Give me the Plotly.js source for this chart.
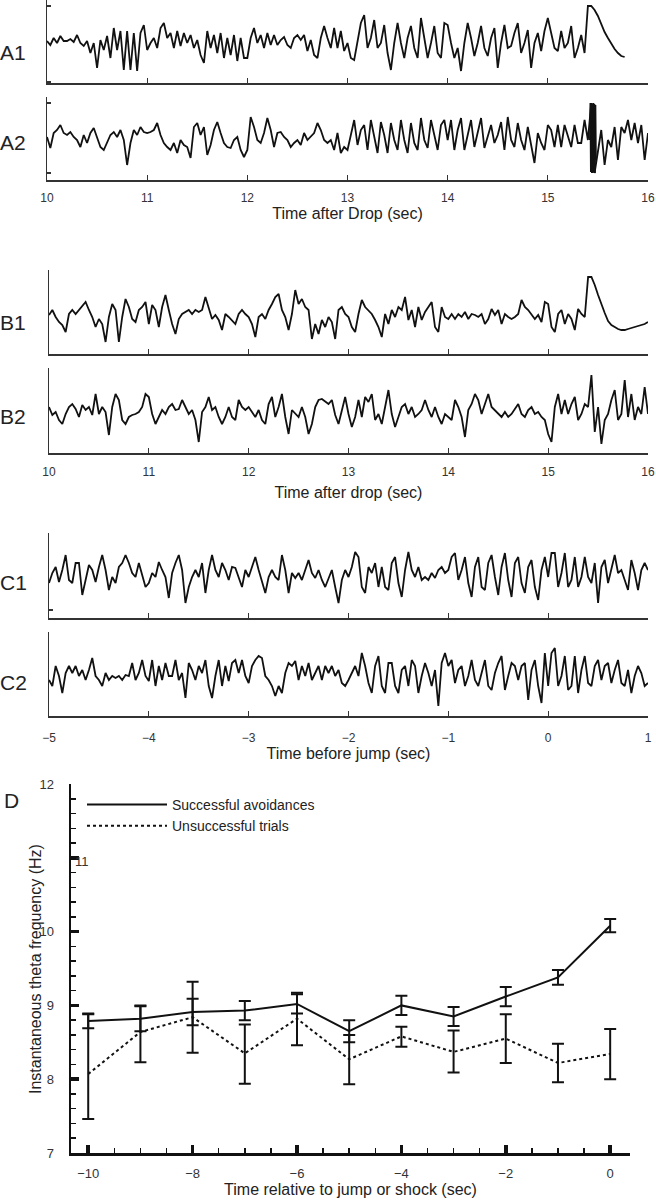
<!DOCTYPE html>
<html>
<head>
<meta charset="utf-8">
<script src="https://cdn.plot.ly/plotly-3.0.1.min.js"></script>
<style>
  body { margin: 0; background: #fff; }
  #chart { width: 656px; height: 1200px; }
</style>
</head>
<body>
<div id="chart"></div>
<script>
// traces at 30 samples per second
const rate = 30;
const dropStart = 10; // panels A and B: seconds after the drop
const jumpStart = -5; // panel C: seconds before the jump

// amplitudes in arbitrary units (about 1 unit per pixel of the original), one row per second
const a1 = [
  2,-2,5,0,7,2,2,4,1,8,0,-3,2,-10,0,-25,3,-7,7,-15,15,-7,12,-27,12,-27,10,-28,10,18,
  -7,0,5,-5,15,20,5,10,-5,12,-3,10,0,8,-5,3,-12,-20,12,-5,8,-10,10,-15,5,-12,8,-18,5,-15,
  -15,5,15,0,8,-5,10,-2,8,-2,3,6,-2,-5,5,8,3,8,-8,3,-12,-15,5,17,5,-5,15,-5,12,-8,
  0,-15,-17,0,20,28,-5,5,23,-5,0,18,-10,-27,0,20,0,-15,5,17,-5,-15,25,5,-15,0,17,-10,-15,20,
  18,0,-15,-5,-28,0,20,5,-13,0,17,-5,-13,5,15,-25,0,18,-5,-3,10,20,-10,0,13,-25,0,10,-8,12,
  25,10,-5,-8,12,-5,0,17,-15,-5,8,-10,37,37,33,27,19,11,5,-1,-6,-10,-13,-14,null,null,null,null,null,null,
  null
];
const a2 = [
  3,-8,7,10,15,7,5,8,3,0,-7,5,-3,7,12,3,-7,-10,-3,5,8,3,10,0,-25,-3,10,5,13,8,
  7,8,10,17,5,-3,-7,-10,-3,-13,0,-5,-7,-18,13,17,5,13,-15,-5,10,18,7,-3,-7,-8,0,3,-10,-17,
  -10,23,13,0,-3,7,22,10,-7,7,8,3,0,-7,-3,0,-5,7,0,3,7,17,10,0,-3,0,-10,7,-13,-7,
  -10,5,20,-5,10,15,-10,20,5,-13,18,5,-13,17,0,-10,20,0,-13,17,-3,-10,22,0,-8,20,5,-10,15,20,
  0,20,-10,10,22,-10,5,20,-7,8,22,-8,5,15,-3,5,18,-10,23,0,-7,17,0,-10,13,-5,-23,7,-3,-10,
  15,10,-7,15,-7,15,5,-7,15,-3,-3,20,0,37,-33,-13,10,-25,0,-7,13,-20,13,7,20,0,17,-3,15,-20,
  7
];
// the shock artefact in A2 (15.42 - 15.48 s)
const a2ArtT = [15.42,15.425,15.43,15.435,15.44,15.445,15.45,15.455,15.46,15.465,15.47,15.475,15.48];
const a2ArtV = [0,37,-32,37,-33,36,-33,37,-32,36,-33,35,-20];
const b1 = [
  2,7,0,-5,-8,-15,3,7,3,7,10,15,7,0,-10,-2,-7,-25,0,13,7,-25,0,18,10,-2,-5,7,10,15,
  -7,12,7,-10,10,22,7,-7,-17,-2,3,5,7,3,7,5,7,20,8,-2,2,-3,-13,3,0,-3,-7,3,7,3,
  0,-7,-20,0,3,-2,7,13,20,23,7,0,-13,3,27,13,18,10,7,-22,-7,-17,-3,-10,0,-5,-22,7,10,3,
  0,-10,-15,3,17,10,7,3,-3,-10,-20,3,-7,7,0,10,7,20,-3,7,-10,10,-3,5,10,15,-10,-15,10,0,
  -2,3,-2,3,0,5,-2,3,2,0,3,-7,-2,8,2,7,-7,3,0,-2,0,3,17,10,7,2,-2,2,-5,15,
  13,-10,-15,3,7,-7,3,-2,-13,8,3,0,40,40,32,22,12,4,-4,-8,-10,-12,-13,-13,-12,-11,-10,-9,-8,-7,
  -5
];
const b2 = [
  5,-3,0,-8,-12,-2,5,8,3,-5,7,2,5,-3,18,-2,5,0,-23,5,18,12,-8,-12,-5,-3,-2,0,5,18,
  15,-2,-12,-5,2,-2,5,8,2,3,12,5,-2,2,-8,-30,0,5,15,2,5,-5,-12,-5,5,-5,-8,12,5,2,
  5,0,-5,2,-8,-12,8,15,-5,5,18,-5,-22,2,-2,-5,5,-5,-22,-12,5,12,13,10,8,12,-3,-12,3,15,
  -2,-15,-5,12,-5,15,10,18,-8,-2,-12,5,22,-2,-15,-5,5,8,-2,5,-5,-2,2,12,2,-5,5,-5,-12,-2,
  -5,-8,12,5,-5,-25,2,8,18,12,-2,8,18,5,2,-2,-5,0,-5,-2,3,8,-2,-5,2,5,-2,0,-5,-8,
  -22,-30,5,18,-2,12,-2,8,15,-8,-2,8,5,37,-20,5,-32,-8,-2,12,22,-8,-2,32,-5,18,-8,5,-2,25,
  -2
];
const c1 = [
  -8,2,8,-7,5,20,-5,-8,12,12,-20,-5,10,5,-7,8,20,5,-15,-2,-8,8,12,20,12,2,-2,12,0,-12,
  -8,2,-2,13,5,-2,-23,2,12,20,5,-28,-12,-2,5,-2,12,-18,5,20,5,-2,12,5,-5,8,7,-2,-12,5,
  -2,8,18,5,-8,-18,-2,5,-2,-5,20,5,-18,2,-3,2,-5,5,15,2,-3,5,-5,-12,-3,5,-12,-28,-5,5,
  -2,8,23,18,-12,-18,8,2,12,-12,8,-12,-15,12,18,-8,-22,5,23,5,-2,8,-5,-2,-5,2,-3,5,8,2,
  5,18,22,-5,5,18,-8,-22,8,18,-12,-15,12,20,-2,-20,8,22,-5,-22,12,18,-8,-18,8,15,-12,-25,5,18,
  -2,22,22,-12,2,22,-12,-5,18,-12,-2,18,-2,-8,12,-28,8,15,-8,5,20,2,5,-5,-15,15,2,-15,5,12,
  5
];
const c2 = [
  -2,-8,12,2,-15,5,12,5,12,2,8,-2,8,20,2,-2,-8,5,-2,2,0,2,-2,3,2,15,-2,5,18,2,
  -3,18,-8,12,-2,15,2,2,18,-2,5,-20,15,8,-2,12,5,18,-8,-20,2,18,-8,12,-3,15,18,5,18,2,
  -5,12,18,22,20,2,-2,-8,-18,-8,-15,5,15,12,17,-2,12,2,15,-2,5,12,-2,12,5,12,2,8,-5,-8,
  -2,5,12,2,25,12,-5,-15,12,22,-8,-15,15,15,-8,-15,8,12,-8,18,12,-15,2,15,5,-8,8,-28,15,25,
  12,18,-5,8,12,-8,2,18,-2,-8,5,18,-8,-12,5,15,22,-12,2,15,12,-2,12,15,-22,8,18,-8,-25,25,
  -8,25,30,-8,2,22,-12,-8,22,-15,8,22,-5,-8,12,18,-2,12,15,-5,8,18,-5,-8,8,-15,2,12,5,-8,
  -5
];

// panel D: instantaneous theta frequency (Hz)
const bins = [-10, -9, -8, -7, -6, -5, -4, -3, -2, -1, 0];
const success = [8.79, 8.82, 8.91, 8.93, 9.02, 8.65, 9.0, 8.85, 9.12, 9.38, 10.08];
const successErr = [0.1, 0.17, 0.18, 0.13, 0.13, 0.15, 0.13, 0.13, 0.13, 0.1, 0.09];
const fail = [8.07, 8.64, 8.84, 8.35, 8.82, 8.27, 8.58, 8.37, 8.55, 8.22, 8.34];
const failPlus = [0.81, 0.36, 0.48, 0.39, 0.35, 0.33, 0.13, 0.29, 0.33, 0.26, 0.34];
const failMinus = [0.61, 0.41, 0.48, 0.41, 0.36, 0.34, 0.14, 0.28, 0.33, 0.26, 0.34];

const W = 656, H = 1200;
const ink = "#111";
const gray = "#333";
const fam = "Liberation Sans, Arial, sans-serif";
const dx = (l, r) => [l / W, r / W];
const dy = (top, bottom) => [1 - bottom / H, 1 - top / H];
const times = (start, n) => Array.from({ length: n }, (_, i) => start + i / rate);

const panels = [
  { id: 1, name: "A1", vals: a1, start: dropStart, xr: [10, 16], left: 47, top: 0, bottom: 83, yr: [-40, 43], yt: [37, -39], labelY: 52 },
  { id: 2, name: "A2", vals: a2, start: dropStart, xr: [10, 16], left: 47, top: 97, bottom: 180, yr: [-40, 43], yt: [37, -33], labelY: 143,
    title: "Time after Drop (sec)", standoff: 4, tls: 6 },
  { id: 3, name: "B1", vals: b1, start: dropStart, xr: [10, 16], left: 49, top: 270, bottom: 354, yr: [-37, 47], yt: [], labelY: 322 },
  { id: 4, name: "B2", vals: b2, start: dropStart, xr: [10, 16], left: 49, top: 368, bottom: 453, yr: [-41, 44], yt: [], labelY: 417,
    title: "Time after drop (sec)", standoff: 9, tls: 7 },
  { id: 5, name: "C1", vals: c1, start: jumpStart, xr: [-5, 1], left: 49, top: 533, bottom: 618, yr: [-43, 42], yt: [-35], labelY: 582 },
  { id: 6, name: "C2", vals: c2, start: jumpStart, xr: [-5, 1], left: 49, top: 632, bottom: 716, yr: [-38, 46], yt: [], labelY: 682,
    title: "Time before jump (sec)", standoff: 0, tls: 10 },
];

const data = [];
const layout = {
  width: W,
  height: H,
  margin: { l: 0, r: 0, t: 0, b: 0 },
  paper_bgcolor: "#fff",
  plot_bgcolor: "rgba(0,0,0,0)",
  font: { family: fam, color: "#222" },
  showlegend: true,
  legend: {
    x: 82 / W, y: 1 - 789 / H, xanchor: "left", yanchor: "top",
    bgcolor: "rgba(0,0,0,0)", font: { size: 14, color: "#222" },
    itemwidth: 80, tracegroupgap: 0,
  },
  annotations: [],
};

panels.forEach((p) => {
  const s = p.id === 1 ? "" : p.id;
  data.push({
    type: "scatter", mode: "lines",
    x: times(p.start, p.vals.length), y: p.vals,
    xaxis: "x" + s, yaxis: "y" + s,
    line: { color: ink, width: 1.8 },
    showlegend: false, hoverinfo: "skip",
  });
  const ticks = [];
  for (let v = p.xr[0]; v <= p.xr[1]; v++) ticks.push(v);
  layout["xaxis" + s] = {
    domain: dx(p.left, 648), range: p.xr, anchor: "y" + s,
    showline: true, linecolor: gray, linewidth: 1.5,
    ticks: "inside", ticklen: 5, tickwidth: 1.2, tickcolor: gray,
    tickvals: ticks, showticklabels: !!p.title,
    tickfont: { size: 12, color: gray }, ticklabelstandoff: p.tls || 0,
    showgrid: false, zeroline: false, fixedrange: true,
    title: p.title ? { text: p.title, font: { size: 16, color: "#222" }, standoff: p.standoff } : { text: "" },
  };
  layout["yaxis" + s] = {
    domain: dy(p.top, p.bottom), range: p.yr, anchor: "x" + s,
    showline: true, linecolor: gray, linewidth: 1.5,
    ticks: "inside", ticklen: 4, tickwidth: 1.2, tickcolor: gray,
    tickvals: p.yt, showticklabels: false,
    showgrid: false, zeroline: false, fixedrange: true,
  };
  layout.annotations.push({
    text: p.name, xref: "paper", yref: "paper", x: 13 / W, y: 1 - p.labelY / H,
    xanchor: "center", yanchor: "middle", showarrow: false,
    font: { size: 21, color: "#222" },
  });
});

// shock artefact drawn on top of A2
data.push({
  type: "scatter", mode: "lines", x: a2ArtT, y: a2ArtV, xaxis: "x2", yaxis: "y2",
  line: { color: ink, width: 1.8 }, showlegend: false, hoverinfo: "skip",
});

// panel D
data.push({
  type: "scatter", mode: "lines", name: "Successful avoidances",
  x: bins, y: success, xaxis: "x7", yaxis: "y7",
  line: { color: ink, width: 2 },
  error_y: { type: "data", array: successErr, color: ink, thickness: 2, width: 6 },
});
data.push({
  type: "scatter", mode: "lines", name: "Unsuccessful trials",
  x: bins, y: fail, xaxis: "x7", yaxis: "y7",
  line: { color: ink, width: 2, dash: "dot" },
  error_y: { type: "data", symmetric: false, array: failPlus, arrayminus: failMinus, color: ink, thickness: 2, width: 6 },
});

layout.xaxis7 = {
  domain: dx(71, 630), range: [-10.33, 0.38], anchor: "y7",
  showline: true, linecolor: ink, linewidth: 2.5,
  ticks: "inside", ticklen: 8, tickwidth: 3.5, tickcolor: ink,
  tick0: 0, dtick: 2, tickfont: { size: 13, color: gray }, ticklabelstandoff: 7,
  minor: { ticks: "inside", dtick: 0.5, ticklen: 5, tickwidth: 1.5, tickcolor: ink },
  showgrid: false, zeroline: false, fixedrange: true,
  title: { text: "Time relative to jump or shock (sec)", font: { size: 16, color: "#222" }, standoff: 0 },
};
layout.yaxis7 = {
  domain: dy(784, 1153), range: [7, 12], anchor: "x7",
  showline: true, linecolor: ink, linewidth: 2.5,
  ticks: "inside", ticklen: 8, tickwidth: 3.5, tickcolor: ink,
  tickvals: [7, 8, 9, 10, 11, 12], ticktext: ["7", "8", "9", "10", "", "12"],
  tickfont: { size: 13, color: gray }, ticklabelstandoff: 12,
  minor: { ticks: "inside", dtick: 0.2, ticklen: 5, tickwidth: 1.5, tickcolor: ink },
  showgrid: false, zeroline: false, fixedrange: true,
  title: { text: "" },
};
// y title placed by hand: it sits closer to the tick labels than an axis title can
layout.annotations.push({
  text: "Instantaneous theta frequency (Hz)", xref: "paper", yref: "paper",
  x: 35 / W, y: 1 - 969 / H, textangle: -90, xanchor: "center", yanchor: "middle",
  showarrow: false, font: { size: 16, color: "#222" },
});
// the "11" label sits just inside the axis in the original
layout.annotations.push({
  text: "11", xref: "paper", yref: "y7", x: 73 / W, y: 11, yshift: -4,
  xanchor: "left", yanchor: "middle", showarrow: false, font: { size: 13, color: gray },
});
layout.annotations.push({
  text: "D", xref: "paper", yref: "paper", x: 2 / W, y: 1 - 800 / H,
  xanchor: "left", yanchor: "middle", showarrow: false, font: { size: 21, color: "#222" },
});

Plotly.newPlot("chart", data, layout, { displayModeBar: false, staticPlot: true });
</script>
</body>
</html>
